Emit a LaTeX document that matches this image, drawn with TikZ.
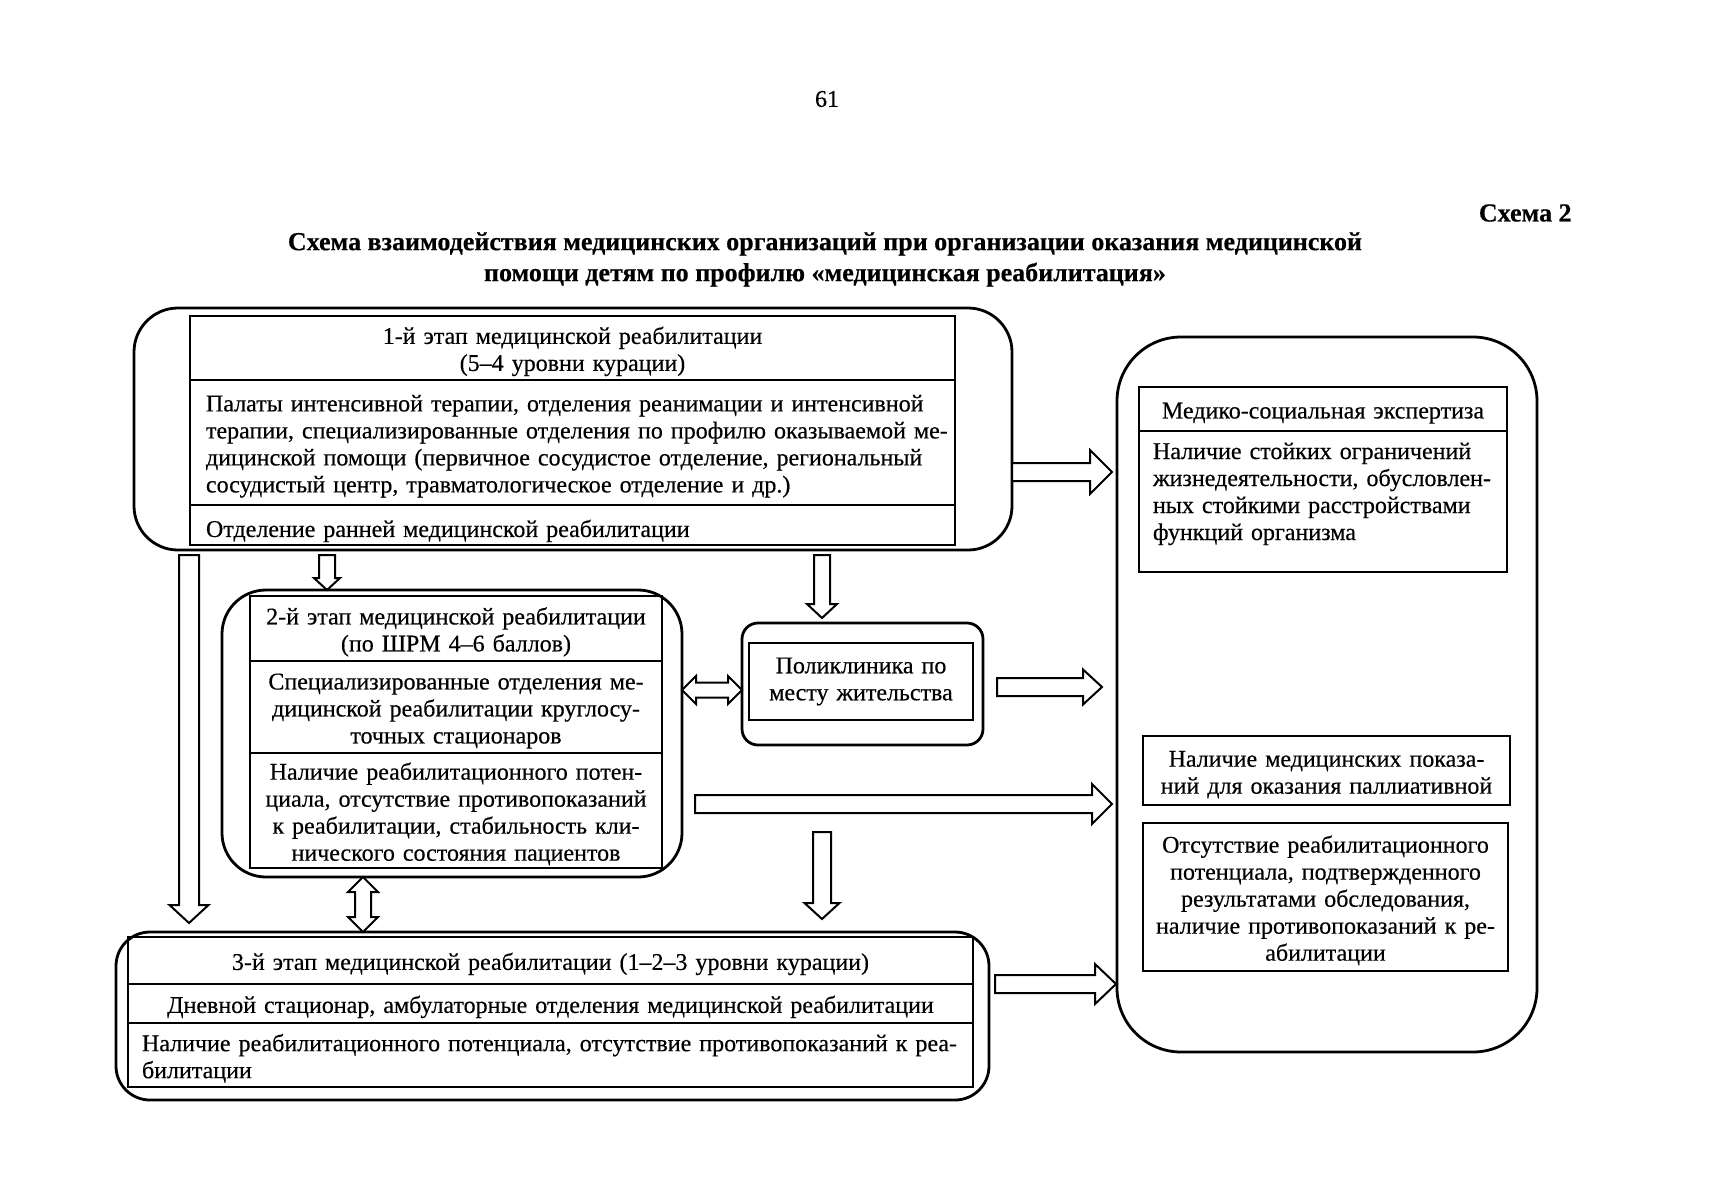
\documentclass[tikz,border=0pt]{standalone}
\usepackage{fontspec}
\setmainfont{Liberation Serif}[FakeBold=0.4]
\usetikzlibrary{calc}
\newcommand\jline[1]{\makebox[\linewidth][s]{#1}}
% horizontal fat arrow, tip at #2
\newcommand\arrR[5]{\draw[fatarr] let \p1=(#1), \p2=(#2) in
 (\x1,{\y1+#3}) -- ({\x2-#5},{\y1+#3}) -- ({\x2-#5},{\y1+#4}) -- (\x2,\y1) -- ({\x2-#5},{\y1-#4}) -- ({\x2-#5},{\y1-#3}) -- (\x1,{\y1-#3}) -- cycle;}
% downward fat arrow, tip at #2
\newcommand\arrD[5]{\draw[fatarr] let \p1=(#1), \p2=(#2) in
 ({\x1-#3},\y1) -- ({\x1-#3},{\y2+#5}) -- ({\x1-#4},{\y2+#5}) -- (\x1,\y2) -- ({\x1+#4},{\y2+#5}) -- ({\x1+#3},{\y2+#5}) -- ({\x1+#3},\y1) -- cycle;}
% double horizontal
\newcommand\arrLR[5]{\draw[fatarr] let \p1=(#1), \p2=(#2) in
 (\x1,\y1) -- ({\x1+#5},{\y1+#4}) -- ({\x1+#5},{\y1+#3}) -- ({\x2-#5},{\y1+#3}) -- ({\x2-#5},{\y1+#4}) -- (\x2,\y1) -- ({\x2-#5},{\y1-#4}) -- ({\x2-#5},{\y1-#3}) -- ({\x1+#5},{\y1-#3}) -- ({\x1+#5},{\y1-#4}) -- cycle;}
% double vertical
\newcommand\arrUD[5]{\draw[fatarr] let \p1=(#1), \p2=(#2) in
 (\x1,\y1) -- ({\x1+#4},{\y1-#5}) -- ({\x1+#3},{\y1-#5}) -- ({\x1+#3},{\y2+#5}) -- ({\x1+#4},{\y2+#5}) -- (\x1,\y2) -- ({\x1-#4},{\y2+#5}) -- ({\x1-#3},{\y2+#5}) -- ({\x1-#3},{\y1-#5}) -- ({\x1-#4},{\y1-#5}) -- cycle;}
\begin{document}
\begin{tikzpicture}[x=0.5pt,y=-0.5pt,
  obox/.style={draw, line width=1.4pt, anchor=north west, inner sep=0pt, outer sep=0pt},
  sectbase/.style={draw, line width=1pt, anchor=north west, inner ysep=0pt, inner xsep=8pt, outer sep=0pt, font=\fontsize{12}{13.5}\selectfont, align=center},
  sect/.style={sectbase, execute at begin node={\rule{0pt}{12pt}}},
  fatarr/.style={draw, line width=1pt, fill=white, line join=miter},
  ttl/.style={font=\bfseries\fontsize{13}{15.5}\selectfont, align=center}]
\fill[white] (0,0) rectangle (1718,1200);
\useasboundingbox (0,0) rectangle (1718,1200);

% page header
\node[font=\fontsize{12}{14}\selectfont] (page) at (827,99) {61};
\node[ttl, anchor=east, inner sep=0pt] (schema) at (1572,213) {Схема 2};
\node[ttl] (title) at (825,259.5) {Схема взаимодействия медицинских организаций при организации оказания медицинской\\помощи детям по профилю «медицинская реабилитация»};

% outer frames
\node[obox, rounded corners=22pt, minimum width=439pt, minimum height=121pt] (s1) at (134,308) {};
\node[obox, rounded corners=22pt, minimum width=230pt, minimum height=143.5pt] (s2) at (222,590) {};
\node[obox, rounded corners=8pt, minimum width=120.5pt, minimum height=61pt] (pk) at (742,623) {};
\node[obox, rounded corners=17pt, minimum width=436.5pt, minimum height=84pt] (s3) at (116,932) {};
\node[obox, rounded corners=32pt, minimum width=210pt, minimum height=357.5pt] (rb) at (1117,337) {};

% stage 1
\node[sect, text width=366.5pt, minimum height=32pt] (s1h) at (190,316) {1-й этап медицинской реабилитации\\(5–4 уровни курации)};
\node[sect, text width=366.5pt, minimum height=62.5pt, align=left] (s1b) at (s1h.south west) {\jline{Палаты интенсивной терапии, отделения реанимации и интенсивной}\\\jline{терапии, специализированные отделения по профилю оказываемой ме-}\\\jline{дицинской помощи (первичное сосудистое отделение, региональный}\\сосудистый центр, травматологическое отделение и др.)};
\node[sect, text width=366.5pt, minimum height=20pt, align=left] (s1c) at (s1b.south west) {\rule{0pt}{14.5pt}Отделение ранней медицинской реабилитации};

% stage 2
\node[sect, inner xsep=6pt, text width=194pt, minimum height=32.5pt] (s2h) at (250,596) {2-й этап медицинской реабилитации\\(по ШРМ 4–6 баллов)};
\node[sect, inner xsep=6pt, text width=194pt, minimum height=46pt] (s2b) at (s2h.south west) {Специализированные отделения ме-\\дицинской реабилитации круглосу-\\точных стационаров};
\node[sect, inner xsep=6pt, text width=194pt, minimum height=57.5pt] (s2c) at (s2b.south west) {Наличие реабилитационного потен-\\циала, отсутствие противопоказаний\\к реабилитации, стабильность кли-\\нического состояния пациентов};

% polyclinic
\node[sectbase, inner xsep=4pt, text width=104pt, minimum height=38.5pt] (pki) at (749,643) {Поликлиника по\\месту жительства};

% stage 3
\node[sect, inner xsep=7pt, text width=408.5pt, minimum height=23.5pt] (s3h) at (128,937) {3-й этап медицинской реабилитации (1–2–3 уровни курации)};
\node[sect, inner xsep=7pt, text width=408.5pt, minimum height=19.5pt] (s3b) at (s3h.south west) {Дневной стационар, амбулаторные отделения медицинской реабилитации};
\node[sect, inner xsep=7pt, text width=408.5pt, minimum height=32pt, align=left] (s3c) at (s3b.south west) {\jline{Наличие реабилитационного потенциала, отсутствие противопоказаний к реа-}\\билитации};

% right column
\node[sect, inner xsep=7pt, text width=170pt, minimum height=22pt] (mseh) at (1139,387) {Медико-социальная экспертиза};
\node[sect, inner xsep=7pt, text width=170pt, minimum height=70.5pt, align=left] (mseb) at (mseh.south west) {\jline{Наличие стойких ограничений}\\\jline{жизнедеятельности, обусловлен-}\\\jline{ных стойкими расстройствами}\\функций организма\rule[-14pt]{0pt}{14pt}};
\node[sect, inner xsep=7pt, text width=169.5pt, minimum height=34.5pt] (pal) at (1143,736) {Наличие медицинских показа-\\ний для оказания паллиативной};
\node[sect, inner xsep=2pt, text width=178.5pt, minimum height=74pt] (abs) at (1143,823) {Отсутствие реабилитационного\\потенциала, подтвержденного\\результатами обследования,\\наличие противопоказаний к ре-\\абилитации};

% arrow end points
\coordinate (a1s) at (s1.east |- 0,472);
\coordinate (a1e) at ($(rb.west |- 0,472)+(-5,0)$);
\coordinate (a2s) at ($(s1.south -| 327,0)+(0,5)$);
\coordinate (a2e) at (s2.north -| 327,0);
\coordinate (a3s) at ($(s1.south -| 822,0)+(0,5)$);
\coordinate (a3e) at ($(pk.north -| 822,0)+(0,-5)$);
\coordinate (a4s) at (s2.east |- 0,690);
\coordinate (a4e) at (pk.west |- 0,690);
\coordinate (a5s) at ($(pk.east |- 0,687)+(14,0)$);
\coordinate (a5e) at ($(rb.west |- 0,687)+(-15,0)$);
\coordinate (a6s) at ($(s2.east |- 0,804)+(13,0)$);
\coordinate (a6e) at ($(rb.west |- 0,804)+(-5,0)$);
\coordinate (a7s) at (822,832);
\coordinate (a7e) at ($(s3.north -| 822,0)+(0,-13)$);
\coordinate (a8s) at (s2.south -| 363,0);
\coordinate (a8e) at (s3.north -| 363,0);
\coordinate (a9s) at ($(s1.south -| 189,0)+(0,5)$);
\coordinate (a9e) at ($(s3.north -| 189,0)+(0,-9)$);
\coordinate (a10s) at ($(s3.east |- 0,984)+(6,0)$);
\coordinate (a10e) at ($(rb.west |- 0,984)+(-1,0)$);

% fat arrows
\arrR{a1s}{a1e}{4.5pt}{11pt}{11pt}
\arrD{a2s}{a2e}{4pt}{6.5pt}{6pt}
\arrD{a3s}{a3e}{4pt}{7.5pt}{7pt}
\arrLR{a4s}{a4e}{3.75pt}{7pt}{7pt}
\arrR{a5s}{a5e}{4.5pt}{8.75pt}{9.5pt}
\arrR{a6s}{a6e}{4.5pt}{10pt}{10pt}
\arrD{a7s}{a7e}{4.5pt}{8.75pt}{8pt}
\arrUD{a8s}{a8e}{4pt}{7.5pt}{7.5pt}
\arrD{a9s}{a9e}{5pt}{9.75pt}{9pt}
\arrR{a10s}{a10e}{4.5pt}{10pt}{10.5pt}
\end{tikzpicture}
\end{document}
